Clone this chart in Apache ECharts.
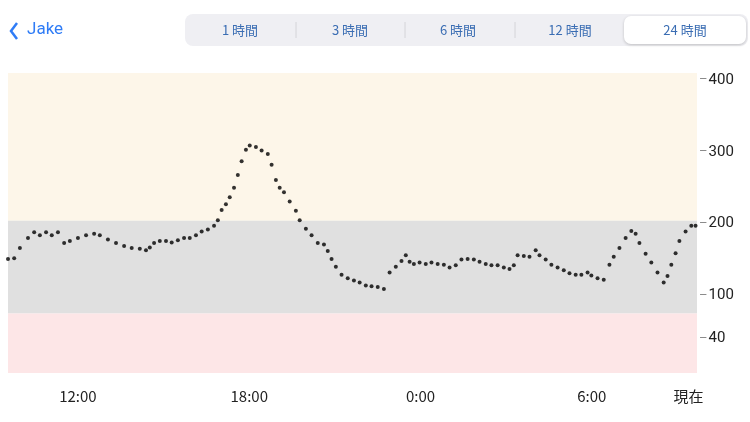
<!DOCTYPE html>
<html><head><meta charset="utf-8">
<script src="https://cdn.jsdelivr.net/npm/echarts@6/dist/echarts.min.js"></script>
<style>html,body{margin:0;padding:0;background:#fff}#c{width:750px;height:422px}</style>
</head><body><div id="c"></div>
<script>
// minutes since 09:33
const minutes = [0,13,25,42,55,67,80,92,105,118,130,147,164,181,193,210,227,244,260,277,290,298,307,319,332,344,357,370,382,395,407,420,433,441,449,458,466,475,483,491,500,508,521,533,546,554,563,571,580,592,605,613,626,638,651,664,672,680,689,701,714,727,739,752,764,777,790,802,815,827,836,844,853,865,878,890,903,916,928,941,953,966,979,991,1004,1016,1029,1042,1054,1063,1071,1084,1096,1109,1117,1130,1142,1155,1168,1180,1193,1205,1218,1226,1239,1252,1264,1273,1285,1298,1310,1319,1327,1340,1352,1365,1378,1386,1394,1403,1411,1424,1436,1445];
const glucose = [151,152,166,180,188,184,188,184,188,173,176,180,184,186,184,178,173,169,166,165,163,167,173,176,176,174,177,180,180,184,189,192,197,205,219,227,237,250,268,287,303,309,307,302,297,282,261,250,244,231,218,205,193,184,173,171,162,151,140,129,124,121,118,114,113,112,109,132,140,148,156,147,144,146,144,146,144,143,139,142,150,151,150,147,144,142,142,139,137,142,156,155,154,163,156,150,143,139,135,131,129,129,132,128,124,122,143,154,166,180,190,186,173,158,146,132,118,127,143,159,176,189,197,197];
const xTickValues = [147,507,867,1227,1430];
const xTickLabels = ['12:00','18:00','0:00','6:00','現在'];
const yTickValues = [40,100,200,300,400];
const tabs = ['1 時間','3 時間','6 時間','12 時間','24 時間'];

const n = Math.min(minutes.length, glucose.length);
const pts = [];
for (let i=0;i<n;i++) pts.push([minutes[i], glucose[i]]);
const chart = echarts.init(document.getElementById('c'));
const tabX = [240,350,458,570,685];
const graphic = [
  {type:'polyline',shape:{points:[[17,23],[11,31],[17,39]]},style:{stroke:'#2f7cf6',lineWidth:2.5,fill:null}},
  {type:'text',left:27,top:21,style:{text:'Jake',fontSize:17,fill:'#2f7cf6',fontFamily:'Roboto, sans-serif'}},
  {type:'rect',shape:{x:185,y:14,width:563,height:32,r:8},style:{fill:'#efeff3'}},
  {type:'rect',shape:{x:624,y:16,width:122,height:28,r:7},style:{fill:'#fff',shadowBlur:3,shadowColor:'rgba(0,0,0,0.2)',shadowOffsetY:1}}
];
[296,405,515].forEach(x=>graphic.push({type:'line',shape:{x1:x,y1:22,x2:x,y2:38},style:{stroke:'#d4d4d8',lineWidth:1}}));
tabs.forEach((t,i)=>graphic.push({type:'text',x:tabX[i],y:30,style:{text:t,fontSize:13,fill:'#3a6db3',align:'center',verticalAlign:'middle',fontFamily:'"Noto Sans CJK JP", sans-serif'}}));
chart.setOption({
  animation:false,
  graphic: graphic,
  grid:{left:8,right:53,top:73,bottom:49},
  xAxis:{type:'value',min:0,max:1448,
    axisLine:{show:false},axisTick:{show:false},splitLine:{show:false},
    axisLabel:{customValues:xTickValues,color:'#222',fontSize:15,margin:16,fontFamily:'"Noto Sans CJK JP", sans-serif',
      formatter:v=>xTickLabels[xTickValues.indexOf(v)]}},
  yAxis:{type:'value',position:'right',min:-8,max:410,
    axisLine:{show:false},splitLine:{show:false},axisTick:{show:false},
    axisLabel:{customValues:yTickValues,color:'#222',fontSize:15,margin:2,fontFamily:'Roboto, sans-serif',
      formatter:v=>'{d|–}'+v,rich:{d:{color:'#888',fontSize:13,padding:[0,1,0,0]}}}},
  series:[{type:'scatter',data:pts,symbolSize:4,itemStyle:{color:'#000'},
    markArea:{silent:true,data:[
      [{yAxis:204,itemStyle:{color:'#fdf6e9'}},{yAxis:410}],
      [{yAxis:75,itemStyle:{color:'#e0e0e0'}},{yAxis:204}],
      [{yAxis:-8,itemStyle:{color:'#fde6e7'}},{yAxis:75}]
    ]}}]
});
</script></body></html>
